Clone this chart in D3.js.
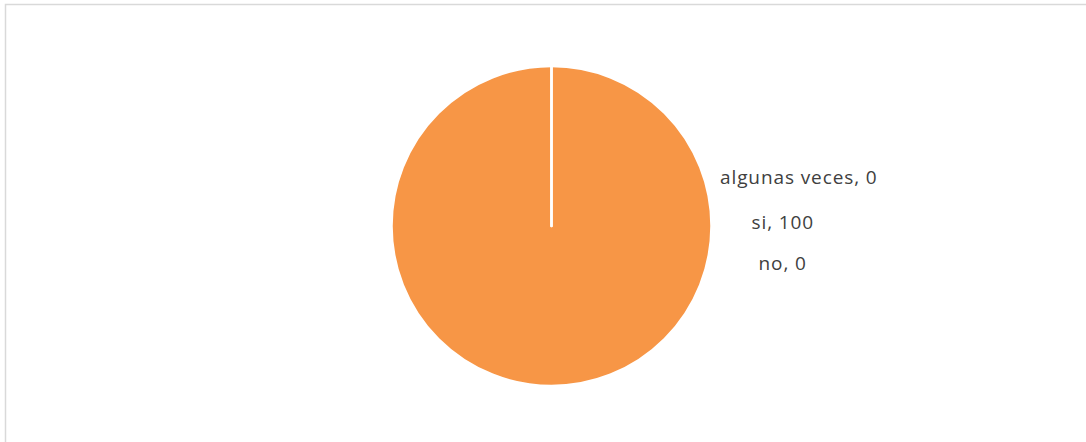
<!DOCTYPE html>
<html>
<head>
<meta charset="utf-8">
<script src="https://cdn.jsdelivr.net/npm/d3@7"></script>
<style>
  html, body { margin: 0; padding: 0; background: #fff; }
  svg { display: block; }
</style>
</head>
<body>
<svg id="chart" width="1086" height="442"></svg>
<script>
// Answer categories and their percentages
const categories = ["si", "algunas veces", "no"];
const values = [100, 0, 0];
// Label anchor points (left x, baseline y) for each category
const labelX = [751.5, 720, 758.5];
const labelY = [229, 183.5, 269.5];

const svg = d3.select("#chart");
const W = 1086, H = 442;

// chart area frame (top and left edges visible)
svg.append("rect")
  .attr("x", 5.5).attr("y", 4.5)
  .attr("width", W + 10).attr("height", H + 10)
  .attr("fill", "#fff")
  .attr("stroke", "#d9d9d9")
  .attr("stroke-width", 1.5);

const cx = 551.5, cy = 226, radius = 160;
const colors = d3.scaleOrdinal().domain(categories).range(["#F79646", "#4F81BD", "#C0504D"]);

const pie = d3.pie().sort(null).value(d => d.value);
const data = categories.map((c, i) => ({ name: c, value: values[i], lx: labelX[i], ly: labelY[i] }));
const arcs = pie(data);
const arc = d3.arc().innerRadius(0).outerRadius(radius);

const g = svg.append("g").attr("transform", `translate(${cx},${cy})`);
g.selectAll("path")
  .data(arcs)
  .join("path")
  .attr("d", arc)
  .attr("fill", d => colors(d.data.name))
  .attr("stroke", "#fff")
  .attr("stroke-width", 2.5)
  .attr("stroke-linejoin", "round");

svg.selectAll("text.lbl")
  .data(data)
  .join("text")
  .attr("class", "lbl")
  .attr("x", d => d.lx)
  .attr("y", d => d.ly)
  .attr("fill", "#404040")
  .attr("font-family", "'Open Sans', 'Liberation Sans', sans-serif")
  .attr("font-size", 19)
  .attr("letter-spacing", 0.9)
  .text(d => `${d.name}, ${d.value}`);
</script>
</body>
</html>
